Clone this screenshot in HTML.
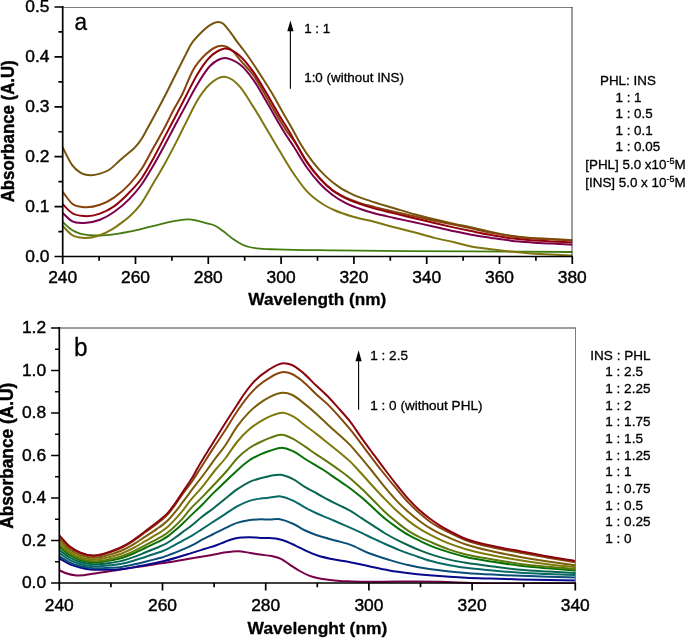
<!DOCTYPE html>
<html lang="en">
<head>
<meta charset="utf-8">
<title>UV absorbance spectra</title>
<style>
html,body{margin:0;padding:0;background:#fff;}
body{width:685px;height:638px;overflow:hidden;}
svg{display:block;}
text{stroke:#000;stroke-width:0.42px;stroke-linejoin:round;}
text.b{stroke-width:0.3px;}
text.v{stroke-width:0.45px;}
g.s text{stroke-width:0.32px;}
</style>
</head>
<body>
<svg width="685" height="638" viewBox="0 0 685 638" font-family="'Liberation Sans', sans-serif" font-size="17.4" fill="#000">
<defs><clipPath id="ca"><rect x="62.7" y="0" width="510.1" height="257.4"/></clipPath><clipPath id="cb"><rect x="59.3" y="320" width="516.5" height="263.9"/></clipPath></defs>
<rect width="685" height="638" fill="#fff"/>
<g id="panel-a">
<g clip-path="url(#ca)" fill="none" stroke-width="2" stroke-linejoin="round">
<path d="M62.7 222C65.8 224.67 68.9 228.02 72 230C74.67 231.71 77.33 232.74 80 233.6C83.33 234.67 86.67 234.88 90 235.2C93.33 235.52 96.67 235.55 100 235.5C104 235.44 108 235.19 112 234.7C115.33 234.29 118.67 233.61 122 233C128 231.9 134 230.66 140 229.3C146.67 227.79 153.33 225.86 160 224.3C165.43 223.03 170.87 221.57 176.3 220.7C180.33 220.05 184.37 219.11 188.4 219.3C191.27 219.43 194.13 220.1 197 220.7C200.33 221.39 203.67 222.36 207 223.3C209.67 224.05 212.33 224.42 215 225.7C217.67 226.98 220.33 229.08 223 231C226.37 233.42 229.73 236.66 233.1 239C236.43 241.32 239.77 243.5 243.1 245C247.8 247.12 252.5 247.64 257.2 248.4C263.87 249.48 270.53 249.12 277.2 249.4C296.13 250.19 315.07 250.12 334 250.4C379.67 251.07 425.33 251.1 471 251.4C504.77 251.62 538.53 251.8 572.3 252" stroke="#427c10" stroke-width="1.8"/>
<path d="M62.7 226C65.8 229 68.9 232.98 72 235C76 237.6 80 237.65 84 237.9C89 238.22 94 237.13 99 235.5C103.33 234.09 107.67 232 112 229.4C115.33 227.4 118.67 224.92 122 222.4C124.67 220.39 127.33 218.47 130 216C133.33 212.92 136.67 209.64 140 205.2C144.1 199.74 148.2 191.88 152.3 185C156.6 177.79 160.9 170.66 165.2 162.9C169.13 155.8 173.07 148.27 177 140.6C180.9 133 184.8 124.78 188.7 117.1C191.47 111.65 194.23 105.69 197 101C201.33 93.66 205.67 88.02 210 84C214.83 79.52 219.67 76.34 224.5 76.7C227 76.89 229.5 77.91 232 79.5C234.67 81.19 237.33 83.78 240 86.8C244.4 91.79 248.8 99.66 253.2 106.6C258.67 115.22 264.13 124.79 269.6 134C273.07 139.84 276.53 145.84 280 151.6C284.4 158.91 288.8 166.48 293.2 173C297.57 179.47 301.93 185.74 306.3 190.6C312 196.95 317.7 200.9 323.4 204.5C326.93 206.73 330.47 208.37 334 210C340.67 213.07 347.33 215.05 354 217C360.7 218.96 367.4 219.98 374.1 221.7C380.8 223.42 387.5 225.53 394.2 227.3C400.87 229.06 407.53 230.54 414.2 232.3C420.9 234.07 427.6 236.23 434.3 237.9C441 239.57 447.7 240.73 454.4 242.3C459.93 243.6 465.47 245.3 471 246.4C477.67 247.72 484.33 248.33 491 249.2C497.67 250.07 504.33 250.9 511 251.6C517.67 252.3 524.33 252.9 531 253.4C537.67 253.9 544.33 254.27 551 254.6C558.1 254.95 565.2 255.13 572.3 255.4" stroke="#7f7612"/>
<path d="M62.7 213C65.8 215.7 68.9 219.39 72 221.1C75.67 223.12 79.33 222.89 83 223C88.67 223.18 94.33 222.01 100 219.8C104.67 217.98 109.33 215.24 114 212C119.33 208.3 124.67 204.02 130 198.4C133.73 194.47 137.47 190.2 141.2 185C145.3 179.29 149.4 172.21 153.5 165.2C157.4 158.53 161.3 151.3 165.2 144.1C169.13 136.84 173.07 129.14 177 121.8C179.67 116.82 182.33 111.92 185 107C189 99.63 193 91.62 197 85C201.33 77.83 205.67 70.42 210 66C212.67 63.28 215.33 61.34 218 60C220.37 58.81 222.73 58.02 225.1 58C227.4 57.98 229.7 58.85 232 59.8C234.67 60.9 237.33 62.37 240 64.5C244.4 68.01 248.8 73.43 253.2 79.6C257.57 85.72 261.93 93.88 266.3 101.3C270.7 108.78 275.1 116.93 279.5 124.3C281.47 127.59 283.43 130.89 285.4 134C288 138.11 290.6 141.7 293.2 145.7C297.57 152.42 301.93 160.47 306.3 166.7C310.7 172.98 315.1 178.47 319.5 183.2C323.87 187.89 328.23 191.67 332.6 195C337 198.35 341.4 200.95 345.8 203.2C350.17 205.44 354.53 206.91 358.9 208.5C363.97 210.34 369.03 211.89 374.1 213.3C380.8 215.16 387.5 216.4 394.2 217.9C400.87 219.4 407.53 220.84 414.2 222.3C420.9 223.77 427.6 225.2 434.3 226.7C441 228.2 447.7 229.85 454.4 231.3C459.93 232.49 465.47 233.68 471 234.7C477.67 235.93 484.33 236.9 491 237.9C497.67 238.9 504.33 239.95 511 240.7C517.67 241.45 524.33 241.92 531 242.4C537.67 242.88 544.33 243.23 551 243.6C558.1 244 565.2 244.33 572.3 244.7" stroke="#7a004c"/>
<path d="M62.7 147.5C65.8 153.27 68.9 160.55 72 164.8C74.67 168.46 77.33 170.64 80 172.4C83.67 174.82 87.33 175.25 91 175.3C94 175.34 97 174.48 100 173.6C102.67 172.82 105.33 172.03 108 170.5C112 168.21 116 163.73 120 160.3C122.67 158.01 125.33 155.69 128 153.4C130.33 151.39 132.67 149.92 135 147.4C137.33 144.88 139.67 141.99 142 138.3C143.9 135.3 145.8 131.46 147.7 128C153.77 116.95 159.83 105.89 165.9 94C169.27 87.4 172.63 80.4 176 73.7C179.43 66.87 182.87 60.18 186.3 53.4C187.63 50.77 188.97 47.83 190.3 45.5C193.37 40.15 196.43 37.54 199.5 34.3C203 30.6 206.5 27.15 210 25.1C212.87 23.42 215.73 21.75 218.6 22.1C220.23 22.3 221.87 22.73 223.5 24C225.13 25.27 226.77 27.69 228.4 29.7C231.9 34.01 235.4 39.65 238.9 44.2C240.57 46.37 242.23 48.32 243.9 50.5C249.17 57.4 254.43 65.62 259.7 73.7C264.1 80.45 268.5 87.24 272.9 94.7C276.83 101.37 280.77 108.94 284.7 115.8C287.07 119.93 289.43 123.82 291.8 128C294.43 132.66 297.07 137.93 299.7 142.4C304.1 149.88 308.5 156.4 312.9 162.1C317.3 167.8 321.7 172.42 326.1 176.6C330.47 180.75 334.83 184.16 339.2 187.1C343.6 190.07 348 192.22 352.4 194.3C358.23 197.06 364.07 198.89 369.9 200.9C378 203.69 386.1 205.75 394.2 208.2C400.87 210.22 407.53 212.45 414.2 214.3C420.9 216.16 427.6 217.7 434.3 219.3C441 220.9 447.7 222.45 454.4 223.9C459.93 225.09 465.47 226.1 471 227.3C477.67 228.74 484.33 230.5 491 231.9C497.67 233.3 504.33 234.7 511 235.7C517.67 236.7 524.33 237.37 531 237.9C537.67 238.43 544.33 238.52 551 238.9C558.1 239.31 565.2 239.83 572.3 240.3" stroke="#75560c"/>
<path d="M62.7 191.8C65.8 195.7 68.9 200.89 72 203.5C76 206.87 80 206.75 84 207.2C89.33 207.8 94.67 206.64 100 204.8C104.67 203.19 109.33 200.79 114 197.6C119.33 193.96 124.67 189.47 130 183.6C133.9 179.31 137.8 174.77 141.7 168.8C145.63 162.78 149.57 154.68 153.5 147.6C157.4 140.58 161.3 133.95 165.2 126.5C167.97 121.21 170.73 115.25 173.5 110C176.47 104.37 179.43 99.93 182.4 94C185.9 87 189.4 76.8 192.9 70.5C197.27 62.64 201.63 58.24 206 54.1C208.67 51.57 211.33 49.38 214 48C216.6 46.65 219.2 45.73 221.8 45.8C223.87 45.86 225.93 46.36 228 47.5C229.9 48.55 231.8 50.18 233.7 52.1C235.8 54.22 237.9 57.36 240 59.9C244.4 65.21 248.8 68.83 253.2 75C257.57 81.12 261.93 89.28 266.3 96.7C270.7 104.18 275.1 112.52 279.5 119.7C282.57 124.7 285.63 129.87 288.7 134C290.2 136.02 291.7 137.57 293.2 139.6C297.57 145.52 301.93 155.17 306.3 161.6C310.7 168.08 315.1 173.49 319.5 178.3C323.87 183.08 328.23 187.19 332.6 190.4C337 193.64 341.4 195.56 345.8 197.6C350.17 199.62 354.53 201.13 358.9 202.6C363.97 204.3 369.03 205.56 374.1 206.9C380.8 208.67 387.5 210.13 394.2 211.7C400.87 213.26 407.53 214.8 414.2 216.3C420.9 217.8 427.6 219.28 434.3 220.7C441 222.12 447.7 223.41 454.4 224.8C459.93 225.95 465.47 227.1 471 228.3C477.67 229.75 484.33 231.48 491 232.8C497.67 234.12 504.33 235.28 511 236.2C517.67 237.12 524.33 237.78 531 238.3C537.67 238.82 544.33 238.93 551 239.3C558.1 239.69 565.2 240.17 572.3 240.6" stroke="#86440c"/>
<path d="M62.7 204.3C65.8 207.2 68.9 211.02 72 213C76 215.56 80 215.78 84 216.1C89.33 216.53 94.67 215.45 100 213.6C104.67 211.98 109.33 209.67 114 206.4C119.33 202.67 124.67 197.44 130 191.8C133.9 187.68 137.8 183.77 141.7 178.2C145.63 172.59 149.57 165.28 153.5 158.2C157.4 151.18 161.3 143.32 165.2 135.9C169.13 128.42 173.07 121.08 177 113.5C180.33 107.08 183.67 100.42 187 94C190.33 87.58 193.67 80.59 197 75C201.33 67.74 205.67 61.3 210 57C212.67 54.36 215.33 52.42 218 51C220.37 49.74 222.73 48.7 225.1 48.6C227.4 48.5 229.7 49.25 232 50.3C234.67 51.52 237.33 53.53 240 55.9C244.4 59.81 248.8 65.52 253.2 71.7C257.57 77.83 261.93 85.48 266.3 92.8C270.7 100.18 275.1 108.41 279.5 115.8C283.23 122.07 286.97 127.52 290.7 134C291.53 135.45 292.37 136.94 293.2 138.4C297.57 146.05 301.93 154.23 306.3 160.8C310.7 167.42 315.1 172.95 319.5 177.9C323.87 182.81 328.23 187.01 332.6 190.4C337 193.82 341.4 196.09 345.8 198.3C350.17 200.49 354.53 202.01 358.9 203.6C363.97 205.44 369.03 206.95 374.1 208.4C380.8 210.32 387.5 211.76 394.2 213.4C400.87 215.03 407.53 216.6 414.2 218.2C420.9 219.8 427.6 221.43 434.3 223C441 224.57 447.7 226.13 454.4 227.6C459.93 228.81 465.47 229.96 471 231.1C477.67 232.47 484.33 233.9 491 235.1C497.67 236.3 504.33 237.43 511 238.3C517.67 239.17 524.33 239.78 531 240.3C537.67 240.82 544.33 241.04 551 241.4C558.1 241.78 565.2 242.13 572.3 242.5" stroke="#92000e"/>
</g>
<path d="M62.7 7.5H572.5" fill="none" stroke="#7c7c7c" stroke-width="1"/>
<path d="M572 7V256.5" fill="none" stroke="#3c3c3c" stroke-width="1"/>
<path d="M62.7 6.1V264.1M54.5 256.5H572.9M62.7 256.5V264.1M135.5 256.5V264.1M208.3 256.5V264.1M281.1 256.5V264.1M353.9 256.5V264.1M426.7 256.5V264.1M499.5 256.5V264.1M572.3 256.5V264.1M99.1 256.5V260.8M171.9 256.5V260.8M244.7 256.5V260.8M317.5 256.5V260.8M390.3 256.5V260.8M463.1 256.5V260.8M535.9 256.5V260.8M54.5 256.5H62.7M54.5 206.6H62.7M54.5 156.7H62.7M54.5 106.8H62.7M54.5 56.9H62.7M54.5 7H62.7M58.4 231.55H62.7M58.4 181.65H62.7M58.4 131.75H62.7M58.4 81.85H62.7M58.4 31.95H62.7" fill="none" stroke="#000" stroke-width="1.7"/>
<text x="62.7" y="283.3" text-anchor="middle">240</text>
<text x="135.5" y="283.3" text-anchor="middle">260</text>
<text x="208.3" y="283.3" text-anchor="middle">280</text>
<text x="281.1" y="283.3" text-anchor="middle">300</text>
<text x="353.9" y="283.3" text-anchor="middle">320</text>
<text x="426.7" y="283.3" text-anchor="middle">340</text>
<text x="499.5" y="283.3" text-anchor="middle">360</text>
<text x="572.3" y="283.3" text-anchor="middle">380</text>
<text x="49.5" y="261.9" text-anchor="end">0.0</text>
<text x="49.5" y="212" text-anchor="end">0.1</text>
<text x="49.5" y="162.1" text-anchor="end">0.2</text>
<text x="49.5" y="112.2" text-anchor="end">0.3</text>
<text x="49.5" y="62.3" text-anchor="end">0.4</text>
<text x="49.5" y="12.4" text-anchor="end">0.5</text>
<text x="74.6" y="29.6" font-size="24.4" textLength="12.6" lengthAdjust="spacingAndGlyphs" style="stroke-width:0.3px">a</text>
<text transform="translate(13.8 202.3) rotate(-90)" class="b v" font-weight="bold" font-size="18.5" textLength="142" lengthAdjust="spacingAndGlyphs">Absorbance (A.U)</text>
<text x="248.3" y="305.1" class="b" font-weight="bold" textLength="138" lengthAdjust="spacingAndGlyphs">Wavelength (nm)</text>
<path d="M290.4 88.8V30" stroke="#000" stroke-width="1.1" fill="none"/><path d="M290.4 20.5l3.1 10.7h-6.2z" fill="#000"/>
<g class="s" font-size="13.4">
<text x="304.2" y="32.8">1 : 1</text>
<text x="304.2" y="81.6">1:0 (without INS)</text>
<text x="600" y="85.4">PHL: INS</text>
<text x="615.5" y="102">1 : 1</text>
<text x="615.5" y="118.4">1 : 0.5</text>
<text x="615.5" y="134.8">1 : 0.1</text>
<text x="615.5" y="151.2">1 : 0.05</text>
<text x="585.3" y="168.6">[PHL] 5.0 x10<tspan font-size="9" dy="-4.7">-5</tspan><tspan dy="4.7">M</tspan></text>
<text x="585.3" y="187.0">[INS] 5.0 x 10<tspan font-size="9" dy="-4.7">-5</tspan><tspan dy="4.7">M</tspan></text>
</g>
</g>
<g id="panel-b">
<g clip-path="url(#cb)" fill="none" stroke-width="2" stroke-linejoin="round">
<path d="M59.3 570.2C61.53 571.2 63.77 572.41 66 573.2C69.53 574.45 73.07 575.08 76.6 575.4C82.73 575.96 88.87 574.19 95 573.4C101.67 572.54 108.33 571.42 115 570.4C121.67 569.38 128.33 568.32 135 567.3C141.67 566.28 148.33 565.3 155 564.3C161.67 563.3 168.33 562.4 175 561.3C180.67 560.37 186.33 559.28 192 558.3C198.67 557.14 205.33 556.09 212 554.9C216.67 554.06 221.33 552.91 226 552.3C230.03 551.77 234.07 551.19 238.1 551.3C242.07 551.41 246.03 552.29 250 552.9C253.33 553.41 256.67 554.1 260 554.6C263.9 555.19 267.8 555.22 271.7 556.1C274.8 556.8 277.9 557.41 281 558.9C284.13 560.4 287.27 563.07 290.4 565.1C293.5 567.11 296.6 569.26 299.7 571C302.83 572.76 305.97 574.38 309.1 575.6C312.2 576.81 315.3 577.6 318.4 578.3C322.3 579.18 326.2 579.55 330.1 580C333.33 580.38 336.57 580.67 339.8 580.9C343.87 581.18 347.93 581.26 352 581.4C368 581.94 384 581.53 400 581.6C413.33 581.66 426.67 581.47 440 581.8C446 581.95 452 582.16 458 582.4C463.67 582.63 469.33 582.97 475 583.2C508.43 584.55 541.87 583.33 575.3 583.4" stroke="#78004a"/>
<path d="M59.3 558.4C62.87 560.37 66.43 562.76 70 564.3C73.33 565.74 76.67 566.65 80 567.5C83.4 568.36 86.8 568.99 90.2 569.4C95.13 570 100.07 569.83 105 569.8C111.33 569.76 117.67 569.66 124 568.9C129.33 568.26 134.67 567.01 140 566C147.77 564.53 155.53 563.18 163.3 561.3C172.87 558.98 182.43 555.85 192 552.9C196.33 551.56 200.67 550.17 205 548.8C209 547.54 213 546.47 217 545C219.73 544 222.47 542.69 225.2 541.7C229.13 540.27 233.07 538.83 237 538.1C240.9 537.37 244.8 537.34 248.7 537.3C252.63 537.26 256.57 537.76 260.5 537.9C263.67 538.01 266.83 537.91 270 538.1C272.77 538.27 275.53 538.28 278.3 538.9C279.6 539.19 280.9 539.59 282.2 540C286.47 541.33 290.73 543.35 295 545.3C298.9 547.08 302.8 549.35 306.7 551.1C310.6 552.85 314.5 554.53 318.4 555.8C322.3 557.07 326.2 557.89 330.1 558.7C333.33 559.37 336.57 559.85 339.8 560.4C342.87 560.92 345.93 561.35 349 561.9C355.7 563.11 362.4 564.88 369.1 566.3C375.8 567.72 382.5 569.25 389.2 570.4C395.87 571.55 402.53 572.4 409.2 573.2C415.9 574 422.6 574.6 429.3 575.2C436 575.8 442.7 576.34 449.4 576.8C454.93 577.18 460.47 577.53 466 577.8C474 578.19 482 578.36 490 578.6C500.07 578.91 510.13 579.15 520.2 579.4C538.57 579.86 556.93 580.2 575.3 580.6" stroke="#08088c"/>
<path d="M59.3 556.19C62.87 558.33 66.43 560.93 70 562.6C73.33 564.16 76.67 565.18 80 566.06C84.37 567.22 88.73 567.83 93.1 568.14C96.07 568.35 99.03 568.29 102 568.23C104.67 568.18 107.33 568.02 110 567.86C113.9 567.62 117.8 567.44 121.7 566.9C125.63 566.35 129.57 565.44 133.5 564.57C137.4 563.71 141.3 562.69 145.2 561.72C149.13 560.74 153.07 559.73 157 558.71C158.97 558.21 160.93 557.78 162.9 557.18C164.83 556.58 166.77 555.84 168.7 555.12C170.67 554.39 172.63 553.6 174.6 552.82C177.17 551.8 179.73 550.77 182.3 549.68C185.63 548.26 188.97 546.89 192.3 545.2C195.43 543.61 198.57 541.58 201.7 539.9C205.63 537.79 209.57 535.96 213.5 534C217.4 532.06 221.3 530.04 225.2 528.2C229.13 526.34 233.07 524.22 237 522.9C240.9 521.59 244.8 520.9 248.7 520.3C252.63 519.7 256.57 519.4 260.5 519.3C263.67 519.22 266.83 519.59 270 519.5C272.73 519.42 275.47 518.71 278.2 518.9C283.3 519.25 288.4 521.66 293.5 524C297.4 525.79 301.3 528.64 305.2 530.5C309.13 532.38 313.07 533.83 317 535.2C320.9 536.56 324.8 537.59 328.7 538.7C332.63 539.82 336.57 540.8 340.5 541.9C343.67 542.78 346.83 543.52 350 544.6C356.37 546.77 362.73 550.79 369.1 553.3C375.8 555.94 382.5 557.9 389.2 559.9C395.87 561.89 402.53 563.79 409.2 565.3C415.9 566.82 422.6 567.98 429.3 569C436 570.02 442.7 570.71 449.4 571.4C454.93 571.97 460.47 572.46 466 572.9C475 573.62 484 574.12 493 574.6C502.07 575.09 511.13 575.45 520.2 575.8C529.47 576.16 538.73 576.43 548 576.7C557.1 576.96 566.2 577.17 575.3 577.4" stroke="#0a4f78"/>
<path d="M59.3 552.95C62.87 555.33 66.43 558.24 70 560.11C73.33 561.84 76.67 562.97 80 563.95C84.37 565.22 88.73 565.9 93.1 566.17C96.07 566.34 99.03 566.19 102 566.04C104.67 565.9 107.33 565.63 110 565.35C113.9 564.94 117.8 564.56 121.7 563.79C125.63 563.02 129.57 561.88 133.5 560.74C137.4 559.6 141.3 558.25 145.2 556.98C149.13 555.69 153.07 554.4 157 553.05C158.97 552.38 160.93 551.79 162.9 551C164.83 550.23 166.77 549.32 168.7 548.36C170.67 547.39 172.63 546.31 174.6 545.22C177.17 543.8 179.73 542.21 182.3 540.78C185.53 538.97 188.77 537.51 192 535.6C195.23 533.69 198.47 531.39 201.7 529.3C205.63 526.75 209.57 524.24 213.5 521.7C217.4 519.18 221.3 516.64 225.2 514.1C229.13 511.54 233.07 508.57 237 506.4C240.9 504.25 244.8 502.4 248.7 501.1C252.63 499.79 256.57 499.2 260.5 498.6C263.67 498.12 266.83 497.95 270 497.6C273.53 497.21 277.07 496.08 280.6 496.4C284.9 496.79 289.2 498.79 293.5 500.8C297.4 502.62 301.3 505.49 305.2 507.6C309.13 509.73 313.07 511.69 317 513.5C320.9 515.29 324.8 516.74 328.7 518.4C332.63 520.07 336.57 521.8 340.5 523.5C343.67 524.87 346.83 526.2 350 527.6C353.9 529.32 357.8 531.06 361.7 532.9C365.63 534.76 369.57 536.85 373.5 538.7C378.2 540.91 382.9 542.93 387.6 545C391.73 546.82 395.87 548.75 400 550.4C404.67 552.26 409.33 553.78 414 555.4C419.33 557.26 424.67 559.27 430 560.8C436.47 562.66 442.93 563.98 449.4 565.2C454.93 566.25 460.47 567.05 466 567.8C475 569.02 484 569.67 493 570.5C502.07 571.34 511.13 572.2 520.2 572.8C529.47 573.41 538.73 573.73 548 574.1C557.1 574.46 566.2 574.7 575.3 575" stroke="#086a66"/>
<path d="M59.3 549.89C62.87 552.51 66.43 555.71 70 557.75C73.33 559.66 76.67 560.9 80 561.95C84.37 563.33 88.73 564.08 93.1 564.31C96.07 564.46 99.03 564.22 102 563.98C104.67 563.76 107.33 563.38 110 562.99C113.9 562.42 117.8 561.84 121.7 560.87C125.63 559.89 129.57 558.52 133.5 557.12C137.4 555.73 141.3 554.06 145.2 552.5C149.13 550.92 153.07 549.36 157 547.71C158.97 546.88 160.93 546.15 162.9 545.18C164.83 544.23 166.77 543.17 168.7 541.99C170.67 540.79 172.63 539.42 174.6 538.05C177.17 536.26 179.73 534.27 182.3 532.38C185.53 529.99 188.77 527.76 192 525.2C195.23 522.64 198.47 519.59 201.7 517C205.63 513.85 209.57 511.25 213.5 508.2C217.4 505.18 221.3 501.92 225.2 498.8C229.13 495.65 233.07 492.16 237 489.4C240.9 486.66 244.8 484.16 248.7 482.3C252.63 480.42 256.57 479.34 260.5 478.2C263.67 477.28 266.83 476.46 270 475.9C273.53 475.28 277.07 474.43 280.6 474.8C284.9 475.25 289.2 477.17 293.5 479.4C297.4 481.42 301.3 484.86 305.2 487.2C309.13 489.56 313.07 491.36 317 493.5C320.9 495.62 324.8 497.96 328.7 500C332.63 502.06 336.57 503.81 340.5 505.8C343.67 507.4 346.83 508.89 350 510.7C353.9 512.93 357.8 515.69 361.7 518.2C365.63 520.73 369.57 523.24 373.5 525.8C377.4 528.34 381.3 531.16 385.2 533.5C389.13 535.86 393.07 537.89 397 539.9C400.53 541.7 404.07 543.37 407.6 545C411.73 546.9 415.87 548.75 420 550.4C424.67 552.26 429.33 553.92 434 555.4C439.13 557.03 444.27 558.4 449.4 559.6C454.93 560.9 460.47 561.85 466 562.8C475 564.34 484 565.34 493 566.5C502.07 567.67 511.13 568.95 520.2 569.8C529.47 570.66 538.73 571.06 548 571.6C557.1 572.13 566.2 572.53 575.3 573" stroke="#086650"/>
<path d="M59.3 546.81C62.87 549.67 66.43 553.16 70 555.38C73.33 557.45 76.67 558.8 80 559.94C84.37 561.43 88.73 562.25 93.1 562.43C96.07 562.56 99.03 562.23 102 561.9C104.67 561.6 107.33 561.11 110 560.61C113.9 559.87 117.8 559.1 121.7 557.92C125.63 556.73 129.57 555.14 133.5 553.48C137.4 551.83 141.3 549.84 145.2 547.99C149.13 546.12 153.07 544.29 157 542.32C158.97 541.34 160.93 540.45 162.9 539.32C164.83 538.2 166.77 536.97 168.7 535.57C170.67 534.14 172.63 532.49 174.6 530.83C177.17 528.66 179.73 526.32 182.3 523.92C184.87 521.51 187.43 518.89 190 516.4C193.9 512.62 197.8 509.1 201.7 505.2C205.63 501.27 209.57 496.82 213.5 492.9C217.4 489.02 221.3 485.51 225.2 481.8C229.33 477.87 233.47 473.67 237.6 470C241.3 466.72 245 463.37 248.7 460.8C252.63 458.07 256.57 456.07 260.5 454.3C263.67 452.88 266.83 451.77 270 450.8C274.3 449.48 278.6 447.56 282.9 447.9C286.43 448.18 289.97 449.7 293.5 451.4C297.4 453.28 301.3 456.56 305.2 459C309.13 461.46 313.07 463.74 317 466.1C319.17 467.4 321.33 468.63 323.5 470C327.67 472.63 331.83 475.74 336 478.6C340.67 481.81 345.33 484.7 350 488.2C353.9 491.12 357.8 494.28 361.7 497.6C365.63 500.95 369.57 504.65 373.5 508.2C377.4 511.72 381.3 515.58 385.2 518.8C389.13 522.05 393.07 524.86 397 527.6C400.9 530.32 404.8 532.96 408.7 535.2C412.63 537.46 416.57 539.19 420.5 541.1C423.67 542.64 426.83 544.24 430 545.6C433.33 547.03 436.67 548.24 440 549.4C443.13 550.49 446.27 551.45 449.4 552.4C454.93 554.08 460.47 555.68 466 557C475 559.15 484 560.35 493 561.8C502.07 563.26 511.13 564.62 520.2 565.7C529.47 566.8 538.73 567.51 548 568.3C557.1 569.07 566.2 569.7 575.3 570.4" stroke="#067006"/>
<path d="M59.3 544.97C62.87 547.97 66.43 551.63 70 553.96C73.33 556.14 76.67 557.55 80 558.74C84.37 560.29 88.73 561.16 93.1 561.32C96.07 561.42 99.03 561.05 102 560.66C104.67 560.3 107.33 559.76 110 559.19C113.9 558.35 117.8 557.46 121.7 556.16C125.63 554.84 129.57 553.12 133.5 551.31C137.4 549.5 141.3 547.32 145.2 545.3C149.13 543.26 153.07 541.26 157 539.11C158.97 538.03 160.93 537.06 162.9 535.81C164.83 534.59 166.77 533.27 168.7 531.73C170.67 530.18 172.63 528.35 174.6 526.52C177.17 524.13 179.73 521.72 182.3 518.87C184.87 516.01 187.43 512.33 190 509.4C193.9 504.95 197.8 501.6 201.7 497.6C205.63 493.57 209.57 489.48 213.5 485.3C218.2 480.31 222.9 475.49 227.6 470C230.73 466.34 233.87 461.82 237 458.5C240.9 454.37 244.8 451.24 248.7 448.5C252.63 445.73 256.57 443.91 260.5 442C263.67 440.46 266.83 439.04 270 437.9C273.9 436.49 277.8 434.51 281.7 434.7C285.63 434.89 289.57 437.09 293.5 439.1C297.4 441.1 301.3 444.08 305.2 446.7C309.13 449.34 313.07 452.24 317 454.9C320.9 457.54 324.8 459.95 328.7 462.6C332.23 465 335.77 467.41 339.3 470C342.87 472.61 346.43 475.23 350 478.2C353.9 481.45 357.8 485.1 361.7 488.8C365.63 492.53 369.57 496.57 373.5 500.5C377.4 504.4 381.3 508.68 385.2 512.3C389.13 515.95 393.07 519.15 397 522.3C400.9 525.42 404.8 528.56 408.7 531.1C412.63 533.66 416.57 535.69 420.5 537.6C423.67 539.14 426.83 540.34 430 541.7C433.33 543.14 436.67 544.65 440 546C443.13 547.27 446.27 548.5 449.4 549.6C454.93 551.54 460.47 553.1 466 554.5C475 556.78 484 557.94 493 559.5C502.07 561.07 511.13 562.69 520.2 563.9C529.47 565.14 538.73 565.94 548 566.8C557.1 567.64 566.2 568.27 575.3 569" stroke="#5f780c"/>
<path d="M59.3 542.16C62.87 545.38 66.43 549.31 70 551.8C73.33 554.13 76.67 555.65 80 556.91C84.37 558.56 88.73 559.49 93.1 559.61C96.07 559.69 99.03 559.24 102 558.76C104.67 558.34 107.33 557.7 110 557.02C113.9 556.04 117.8 554.97 121.7 553.47C125.63 551.96 129.57 550.05 133.5 547.99C137.4 545.95 141.3 543.48 145.2 541.19C149.13 538.89 153.07 536.65 157 534.21C158.97 532.99 160.93 531.87 162.9 530.47C164.83 529.09 166.77 527.62 168.7 525.89C170.67 524.12 172.63 522.04 174.6 519.94C177.17 517.21 179.73 514.35 182.3 511.16C184.87 507.97 187.43 504.03 190 500.8C193.9 495.89 197.8 492.3 201.7 487.6C206.23 482.14 210.77 475.52 215.3 470C218.6 465.98 221.9 462.69 225.2 458.5C229.13 453.51 233.07 446.81 237 442C240.9 437.23 244.8 433.12 248.7 429.7C252.63 426.25 256.57 423.78 260.5 421.4C263.67 419.48 266.83 417.75 270 416.4C274.3 414.57 278.6 412.37 282.9 412.7C286.43 412.97 289.97 414.74 293.5 416.7C297.4 418.87 301.3 422.56 305.2 425.5C309.13 428.46 313.07 431.34 317 434.4C320.9 437.44 324.8 440.68 328.7 443.8C332.63 446.95 336.57 449.92 340.5 453.2C343.67 455.84 346.83 458.35 350 461.4C352.73 464.03 355.47 467.07 358.2 470C363.3 475.46 368.4 481.48 373.5 487C377.4 491.22 381.3 495.4 385.2 499.4C389.13 503.43 393.07 507.47 397 511.1C400.9 514.7 404.8 518.08 408.7 521.1C412.63 524.15 416.57 526.87 420.5 529.3C423.67 531.26 426.83 532.92 430 534.6C433.33 536.37 436.67 538.06 440 539.6C443.13 541.05 446.27 542.37 449.4 543.6C454.93 545.78 460.47 547.55 466 549.2C475 551.88 484 553.65 493 555.5C502.07 557.36 511.13 558.86 520.2 560.3C529.47 561.77 538.73 563.02 548 564.2C557.1 565.35 566.2 566.27 575.3 567.3" stroke="#7e7a0a"/>
<path d="M59.3 539.08C62.87 542.53 66.43 546.76 70 549.43C73.33 551.93 76.67 553.55 80 554.9C84.37 556.66 88.73 557.66 93.1 557.74C96.07 557.79 99.03 557.25 102 556.68C104.67 556.18 107.33 555.43 110 554.64C113.9 553.49 117.8 552.23 121.7 550.52C125.63 548.8 129.57 546.67 133.5 544.35C137.4 542.05 141.3 539.26 145.2 536.68C149.13 534.09 153.07 531.58 157 528.83C158.97 527.45 160.93 526.18 162.9 524.6C164.83 523.06 166.77 521.43 168.7 519.47C170.67 517.47 172.63 515.11 174.6 512.72C177.17 509.61 179.73 506.11 182.3 502.7C184.87 499.3 187.43 495.74 190 492.3C195.67 484.71 201.33 477.86 207 470C209.17 467 211.33 463.78 213.5 460.8C217.4 455.43 221.3 451.15 225.2 445.5C229.13 439.8 233.07 432.2 237 426.7C240.9 421.25 244.8 416.61 248.7 412.6C252.63 408.56 256.57 405.42 260.5 402.6C263.67 400.33 266.83 398.32 270 396.8C274.43 394.67 278.87 392.69 283.3 392.8C286.3 392.87 289.3 393.67 292.3 395C296.6 396.91 300.9 401 305.2 404.4C309.13 407.51 313.07 410.87 317 414.4C320.9 417.9 324.8 421.9 328.7 425.5C332.63 429.13 336.57 432.51 340.5 436.1C343.67 438.99 346.83 441.58 350 444.9C352.53 447.55 355.07 450.64 357.6 453.6C362.13 458.89 366.67 464.42 371.2 470C375.87 475.75 380.53 482.02 385.2 487.6C389.13 492.3 393.07 496.97 397 501.1C400.9 505.2 404.8 508.88 408.7 512.3C412.63 515.75 416.57 518.81 420.5 521.7C423.67 524.03 426.83 526.26 430 528.2C433.33 530.25 436.67 531.96 440 533.6C443.13 535.14 446.27 536.45 449.4 537.8C454.93 540.19 460.47 542.57 466 544.5C475 547.64 484 549.44 493 551.5C502.07 553.58 511.13 555.25 520.2 556.9C529.47 558.59 538.73 560.09 548 561.5C557.1 562.89 566.2 564.03 575.3 565.3" stroke="#7a5c0a"/>
<path d="M59.3 536.09C62.87 539.77 66.43 544.28 70 547.13C73.33 549.8 76.67 551.52 80 552.95C84.37 554.82 88.73 555.89 93.1 555.92C96.07 555.94 99.03 555.32 102 554.67C104.67 554.08 107.33 553.23 110 552.33C113.9 551.03 117.8 549.57 121.7 547.66C125.63 545.74 129.57 543.39 133.5 540.82C137.4 538.27 141.3 535.17 145.2 532.31C149.13 529.43 153.07 526.66 157 523.61C158.97 522.08 160.93 520.66 162.9 518.91C164.83 517.2 166.77 515.41 168.7 513.24C170.67 511.02 172.63 508.38 174.6 505.72C177.17 502.24 179.73 498.1 182.3 494.49C185.53 489.95 188.77 486.22 192 481.5C194.47 477.9 196.93 473.84 199.4 470C204.1 462.67 208.8 455.1 213.5 447.9C217.4 441.92 221.3 436.34 225.2 430.3C229.13 424.21 233.07 417.3 237 411.5C240.9 405.75 244.8 400.19 248.7 395.6C251.8 391.95 254.9 388.75 258 386C261.4 382.99 264.8 380.66 268.2 378.6C273.23 375.55 278.27 372.19 283.3 372.1C286.2 372.05 289.1 372.75 292 374C295.43 375.47 298.87 378.28 302.3 381C307.2 384.88 312.1 390.52 317 395C321 398.66 325 401.63 329 405.6C332.67 409.24 336.33 413.49 340 417.6C343.33 421.34 346.67 425.07 350 429.1C356.2 436.59 362.4 445.45 368.6 453.6C372.77 459.08 376.93 464.7 381.1 470C386.4 476.74 391.7 483.14 397 489.4C400.9 494.01 404.8 498.8 408.7 502.9C412.63 507.04 416.57 510.69 420.5 514.1C423.67 516.84 426.83 519.46 430 521.7C433.33 524.06 436.67 525.94 440 527.8C443.13 529.55 446.27 531.06 449.4 532.6C454.93 535.32 460.47 538.06 466 540.2C475 543.68 484 545.42 493 547.5C502.07 549.59 511.13 551 520.2 552.7C529.47 554.44 538.73 556.19 548 557.8C557.1 559.38 566.2 560.8 575.3 562.3" stroke="#86460c"/>
<path d="M59.3 535.4C62.87 539.13 66.43 543.71 70 546.6C73.33 549.3 76.67 551.05 80 552.5C84.37 554.39 88.73 555.48 93.1 555.5C96.07 555.52 99.03 554.87 102 554.2C104.67 553.59 107.33 552.72 110 551.8C113.9 550.46 117.8 548.96 121.7 547C125.63 545.03 129.57 542.63 133.5 540C137.4 537.39 141.3 534.22 145.2 531.3C149.13 528.35 153.07 525.52 157 522.4C158.97 520.84 160.93 519.38 162.9 517.6C164.83 515.85 166.77 514.03 168.7 511.8C170.67 509.54 172.63 506.83 174.6 504.1C177.17 500.54 179.73 496.43 182.3 492.6C185.53 487.77 188.77 483.61 192 478.1C193.5 475.55 195 472.65 196.5 470C202.17 459.98 207.83 451.2 213.5 442C217.4 435.67 221.3 429.34 225.2 423.2C229.13 417.01 233.07 411.06 237 405C239.17 401.66 241.33 398.12 243.5 395C246.4 390.82 249.3 386.92 252.2 383.6C257.53 377.49 262.87 373.54 268.2 370.1C273.23 366.85 278.27 363.38 283.3 363.2C286.2 363.1 289.1 363.76 292 365C295.43 366.47 298.87 369.32 302.3 372.1C307 375.9 311.7 381.38 316.4 385.8C319.73 388.94 323.07 391.68 326.4 395C330.27 398.85 334.13 403.28 338 407.6C342 412.07 346 416.23 350 421.4C354 426.57 358 433.01 362 438.6C365.67 443.72 369.33 448.63 373 453.6C377.07 459.11 381.13 464.63 385.2 470C389.13 475.19 393.07 480.38 397 485.3C400.9 490.18 404.8 495.11 408.7 499.4C412.63 503.72 416.57 507.59 420.5 511.1C423.67 513.92 426.83 516.43 430 518.8C433.33 521.29 436.67 523.51 440 525.6C443.13 527.56 446.27 529.3 449.4 531C454.93 533.99 460.47 536.8 466 539C475 542.57 484 543.96 493 546C502.07 548.06 511.13 549.57 520.2 551.3C529.47 553.07 538.73 554.89 548 556.5C557.1 558.08 566.2 559.43 575.3 560.9" stroke="#8c0410"/>
</g>
<path d="M59.3 328H576" fill="none" stroke="#3c3c3c" stroke-width="1"/>
<path d="M575.5 327.5V583" fill="none" stroke="#7c7c7c" stroke-width="1"/>
<path d="M59.3 327.1V590.6M51.1 583H575.9M59.3 583V590.6M162.5 583V590.6M265.7 583V590.6M368.9 583V590.6M472.1 583V590.6M575.3 583V590.6M110.9 583V587.3M214.1 583V587.3M317.3 583V587.3M420.5 583V587.3M523.7 583V587.3M51.1 583H59.3M51.1 540.5H59.3M51.1 498H59.3M51.1 455.5H59.3M51.1 413H59.3M51.1 370.5H59.3M51.1 328H59.3M55 561.75H59.3M55 519.25H59.3M55 476.75H59.3M55 434.25H59.3M55 391.75H59.3M55 349.25H59.3" fill="none" stroke="#000" stroke-width="1.7"/>
<text x="59.3" y="610.9" text-anchor="middle">240</text>
<text x="162.5" y="610.9" text-anchor="middle">260</text>
<text x="265.7" y="610.9" text-anchor="middle">280</text>
<text x="368.9" y="610.9" text-anchor="middle">300</text>
<text x="472.1" y="610.9" text-anchor="middle">320</text>
<text x="575.3" y="610.9" text-anchor="middle">340</text>
<text x="46.1" y="588.4" text-anchor="end">0.0</text>
<text x="46.1" y="545.9" text-anchor="end">0.2</text>
<text x="46.1" y="503.4" text-anchor="end">0.4</text>
<text x="46.1" y="460.9" text-anchor="end">0.6</text>
<text x="46.1" y="418.4" text-anchor="end">0.8</text>
<text x="46.1" y="375.9" text-anchor="end">1.0</text>
<text x="46.1" y="333.4" text-anchor="end">1.2</text>
<text x="74" y="355.8" font-size="25.3" textLength="13.6" lengthAdjust="spacingAndGlyphs" style="stroke-width:0.3px">b</text>
<text transform="translate(13 528.8) rotate(-90)" class="b v" font-weight="bold" font-size="18.7" textLength="146" lengthAdjust="spacingAndGlyphs">Absorbance (A.U)</text>
<text x="247.6" y="634" class="b" font-weight="bold" font-size="17.1" textLength="139.8" lengthAdjust="spacingAndGlyphs">Wavelenght (nm)</text>
<path d="M358.6 409.7V360" stroke="#000" stroke-width="1.1" fill="none"/><path d="M358.6 350.3l3.1 10.9h-6.2z" fill="#000"/>
<g class="s" font-size="13.56">
<text x="370.3" y="360.4">1 : 2.5</text>
<text x="370.3" y="410.2">1 : 0 (without PHL)</text>
<text x="590.3" y="359.7">INS : PHL</text>
<text x="605.3" y="376.3">1 : 2.5</text>
<text x="605.3" y="392.97">1 : 2.25</text>
<text x="605.3" y="409.64">1 : 2</text>
<text x="605.3" y="426.31">1 : 1.75</text>
<text x="605.3" y="442.98">1 : 1.5</text>
<text x="605.3" y="459.65">1 : 1.25</text>
<text x="605.3" y="476.32">1 : 1</text>
<text x="605.3" y="492.99">1 : 0.75</text>
<text x="605.3" y="509.66">1 : 0.5</text>
<text x="605.3" y="526.33">1 : 0.25</text>
<text x="605.3" y="543">1 : 0</text>
</g>
</g>
</svg>
</body>
</html>
